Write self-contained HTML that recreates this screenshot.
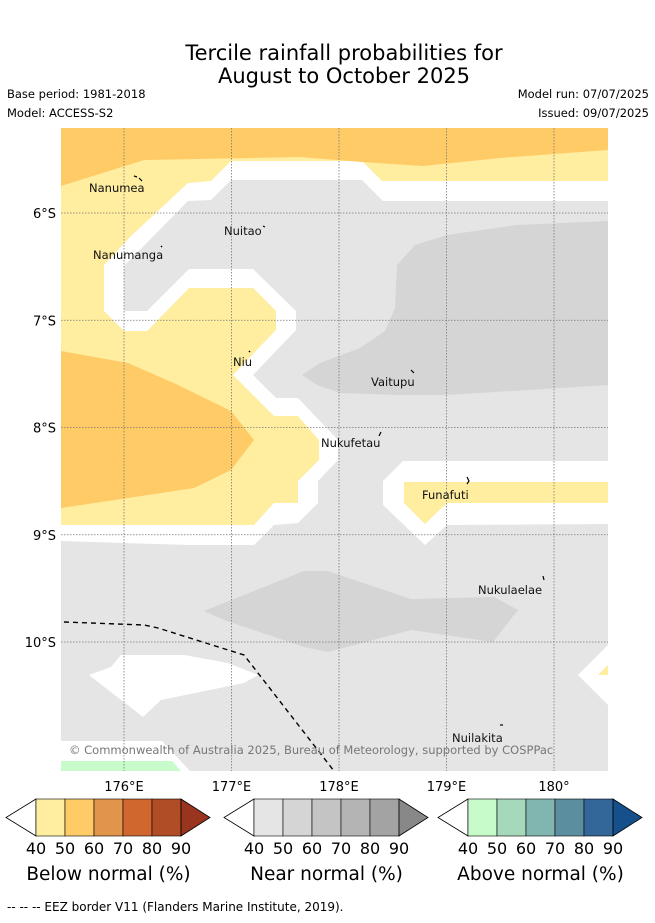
<!DOCTYPE html>
<html><head><meta charset="utf-8">
<style>
html,body{margin:0;padding:0;background:#fff;}
body{width:655px;height:919px;overflow:hidden;font-family:"DejaVu Sans","Liberation Sans",sans-serif;}
svg text{font-family:"DejaVu Sans","Liberation Sans",sans-serif;}
</style></head>
<body>
<svg id="chart" width="655" height="919" viewBox="0 0 655 919" xmlns="http://www.w3.org/2000/svg">
  <text x="344" y="60" font-size="21" text-anchor="middle" fill="#000">Tercile rainfall probabilities for</text>
  <text x="344" y="83" font-size="21" text-anchor="middle" fill="#000">August to October 2025</text>
  <text x="7" y="98" font-size="11.5" fill="#000">Base period: 1981-2018</text>
  <text x="7" y="117" font-size="11.5" fill="#000">Model: ACCESS-S2</text>
  <text x="649" y="98" font-size="11.5" text-anchor="end" fill="#000">Model run: 07/07/2025</text>
  <text x="649" y="117" font-size="11.5" text-anchor="end" fill="#000">Issued: 09/07/2025</text>

  <defs><clipPath id="mapclip"><rect x="61" y="128" width="547" height="643"/></clipPath></defs>
  <g clip-path="url(#mapclip)">
    <rect x="61" y="128" width="547" height="643" fill="#e5e5e5"/>
    <polygon fill="#d5d5d5" points="302,375 320,363 360,348 385,331 395,308 397,265 415,245 447,235 517,225 608,221 608,385 447,395 400,395 340,393 317,385"/>
    <polygon fill="#d5d5d5" points="204,611 304,571 328,571 411,599 494,597 518,610 493,642 411,630 328,652 304,647 224,620"/>
    <polygon fill="#ffffff" points="61,128 608,128 608,201 383,201 362,180 231,180 211,200 188,201 124,266 124,311 147,311 189,269 253,269 296,311 296,330 253,375 276,398 298,398 338,440 338,460 318,481 318,503 298,523 274,525 254,545 189,545 61,541"/>
    <polygon fill="#ffeda0" points="61,128 608,128 608,181 382,181 362,161 231,161 211,181 188,183 131,236 104,265 104,311 124,331 147,331 189,288 253,288 276,311 276,330 233,375 274,416 298,416 319,440 319,460 298,481 298,503 274,503 254,525 61,525"/>
    <polygon fill="#fecb66" points="61,128 608,128 608,150 500,158 423,166 362,162 300,157 144,160 61,186"/>
    <polygon fill="#fecb66" points="61,351 128,363 178,385 231,411 254,440 231,470 194,488 128,498 61,508"/>
    <polygon fill="#ffffff" points="403,461 608,461 608,524 447,525 425,545 383,505 383,481"/>
    <polygon fill="#ffeda0" points="404,482 608,482 608,503 447,503 425,524 404,503"/>
    <polygon fill="#ffffff" points="121,655 184,655 228,663 258,675 244,683 161,700 143,717 89,675 111,667"/>
    <polygon fill="#ffffff" points="608,645 578,675 608,705"/>
    <polygon fill="#ffeda0" points="608,665 598,675 608,675"/>
    <polygon fill="#ffffff" points="61,741 162,741 190,771 61,771"/>
    <polygon fill="#c7fcca" points="61,761 172,761 181,771 61,771"/>
    <g id="grid"></g>
    <polyline fill="none" stroke="#000" stroke-width="1.4" stroke-dasharray="5,4" points="64,622 144,625 158,628 244,655 334,771"/>
    <g font-size="11.5" fill="#111">
      <text x="89" y="192">Nanumea</text>
      <path d="M134,176 l3,1 M139,178 l3,3" stroke="#000" stroke-width="1.2"/>
      <text x="224" y="235">Nuitao</text>
      <path d="M263,226 l2,1" stroke="#000" stroke-width="1.2"/>
      <text x="93" y="259">Nanumanga</text>
      <path d="M161,246 l1,1" stroke="#000" stroke-width="1.5"/>
      <text x="233" y="366">Niu</text>
      <path d="M249,352 l1,-1" stroke="#000" stroke-width="1.5"/>
      <text x="371" y="386">Vaitupu</text>
      <path d="M411,370 l3,3" stroke="#000" stroke-width="1.2"/>
      <text x="321" y="447">Nukufetau</text>
      <path d="M379,436 l2,-4" stroke="#000" stroke-width="1.2"/>
      <text x="422" y="499">Funafuti</text>
      <path d="M467,477 l2,4 l-2,3" fill="none" stroke="#000" stroke-width="1.2"/>
      <text x="478" y="594">Nukulaelae</text>
      <path d="M543,576 l1,4" stroke="#000" stroke-width="1.2"/>
      <text x="452" y="742">Nuilakita</text>
      <path d="M500,725 l3,0" stroke="#000" stroke-width="1.2"/>
    </g>
    <text x="69" y="754" font-size="11.5" fill="#777">© Commonwealth of Australia 2025, Bureau of Meteorology, supported by COSPPac</text>
  </g>
  <g id="axes"></g>
  <g id="legends"></g>
  <text x="7" y="911" font-size="12" fill="#000">--  --  -- EEZ border V11 (Flanders Marine Institute, 2019).</text>
</svg>
<script>
const lonTicks = [176, 177, 178, 179, 180];
const lonLabels = ["176°E", "177°E", "178°E", "179°E", "180°"];
const latTicks = [6, 7, 8, 9, 10];
const latLabels = ["6°S", "7°S", "8°S", "9°S", "10°S"];
const legendLevels = [40, 50, 60, 70, 80, 90];
const legendTitles = ["Below normal (%)", "Near normal (%)", "Above normal (%)"];
const belowColors = ["#ffeda0", "#fecb66", "#e0954a", "#d0672f", "#b14d26", "#99341f"];
const nearColors = ["#e5e5e5", "#d5d5d5", "#c4c4c4", "#b4b4b4", "#a3a3a3", "#888888"];
const aboveColors = ["#c7fcca", "#a6d8bb", "#80b6af", "#5b8fa0", "#336699", "#15508a"];

const NS = "http://www.w3.org/2000/svg";
function xLon(lon){ return 124 + (lon - 176) * 107.5; }
function yLat(lat){ return 213 + (lat - 6) * 107.25; }
function mk(tag, attrs, parent){ const e = document.createElementNS(NS, tag); for (const k in attrs) e.setAttribute(k, attrs[k]); parent.appendChild(e); return e; }

const gridG = document.getElementById('grid');
const axesG = document.getElementById('axes');
lonTicks.forEach((lon, i) => {
  const x = xLon(lon);
  const l = mk('line', {x1:x, y1:128, x2:x, y2:771, stroke:'#777', 'stroke-width':0.8, 'stroke-dasharray':'1.5,1.5'}, gridG);
  
  
  const t = mk('text', {x:x, y:791, 'font-size':13, 'text-anchor':'middle', fill:'#000'}, axesG);
  t.textContent = lonLabels[i];
  
  
});
latTicks.forEach((lat, i) => {
  const y = yLat(lat);
  const l = mk('line', {x1:61, y1:y, x2:608, y2:y, stroke:'#777', 'stroke-width':0.8, 'stroke-dasharray':'1.5,1.5'}, gridG);
  
  
  const t = mk('text', {x:56, y:y + 5, 'font-size':13, 'text-anchor':'end', fill:'#000'}, axesG);
  t.textContent = latLabels[i];
  
  
});

const legendsG = document.getElementById('legends');
const colorSets = [belowColors, nearColors, aboveColors];
const legendStarts = [36, 254, 468];
const boxW = 29, barTop = 799, barBot = 836, barMid = 817.5;
colorSets.forEach((cols, li) => {
  const x0 = legendStarts[li];
  const g = mk('g', {}, legendsG);
  
  
  const lt = mk('polygon', {points:`${x0},${barTop} ${x0-30},${barMid} ${x0},${barBot}`, fill:'#fff', stroke:'#000', 'stroke-width':0.8}, g);
  
  
  for (let i = 0; i < legendLevels.length - 1; i++) {
    const r = mk('rect', {x:x0 + i*boxW, y:barTop, width:boxW, height:barBot-barTop, fill:cols[i], stroke:'#000', 'stroke-width':0.6}, g);
    
    
  }
  const xe = x0 + (legendLevels.length - 1) * boxW;
  const rt = mk('polygon', {points:`${xe},${barTop} ${xe+29},${barMid} ${xe},${barBot}`, fill:cols[cols.length-1], stroke:'#000', 'stroke-width':0.8}, g);
  
  
  legendLevels.forEach((v, i) => {
    const t = mk('text', {x:x0 + i*boxW, y:854, 'font-size':16, 'text-anchor':'middle', fill:'#000'}, g);
    t.textContent = v;
    
    
  });
  const tt = mk('text', {x:x0 + 2.5*boxW, y:880, 'font-size':18.5, 'text-anchor':'middle', fill:'#000'}, g);
  tt.textContent = legendTitles[li];
  
  
});
</script>
</body></html>
